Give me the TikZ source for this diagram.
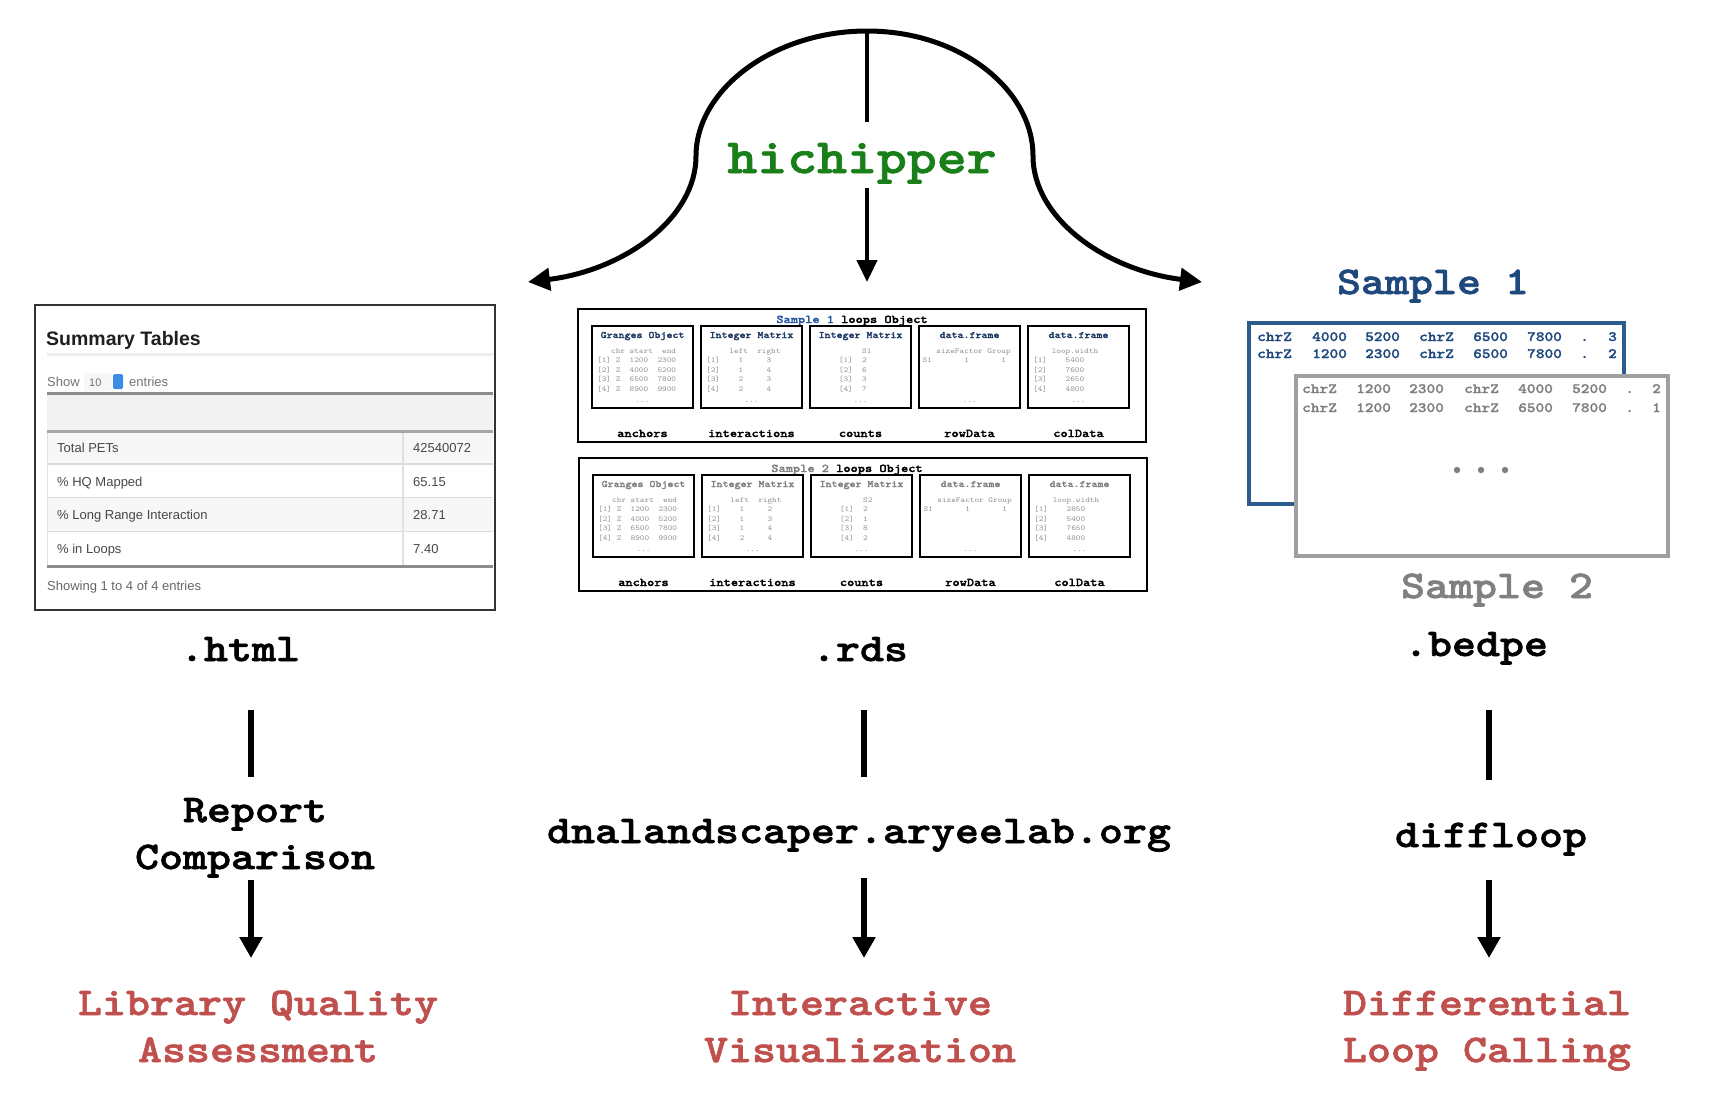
\documentclass[tikz,border=0pt]{standalone}
\usepackage{fontspec}
\setmainfont{Liberation Sans}
\newfontfamily\courB{lmmonolt10-bold.otf}[FakeStretch=1.163, FakeBold=1.6]
\newfontfamily\courR{lmmono10-regular.otf}[FakeStretch=1.163]
\usetikzlibrary{arrows.meta}
\newcommand\fsz[1]{\fontsize{#1}{#1}\selectfont}
\newcommand\pvl[1]{\vtop{\baselineskip=9.6pt\lineskiplimit=-20pt\lineskip=0pt #1}}
\definecolor{hgreen}{RGB}{25,128,25}
\definecolor{hred}{RGB}{192,80,77}
\definecolor{navy}{RGB}{31,56,100}
\definecolor{s1title}{RGB}{40,90,160}
\definecolor{s1lab}{RGB}{31,73,125}
\definecolor{sgray}{RGB}{128,128,128}
\definecolor{bblue}{RGB}{44,92,140}
\definecolor{bgray}{RGB}{160,160,160}
\definecolor{spin}{RGB}{60,140,230}
\tikzset{
 lbl/.style={font=\courB\fsz{39.3}, anchor=base, inner sep=0pt},
 res/.style={lbl, text=hred},
 hichip/.style={font=\courB\fsz{49}, anchor=base, inner sep=0pt, text=hgreen},
 curvearrow/.style={line width=5pt, -{Triangle[length=22pt,width=22pt]}},
 thinstem/.style={line width=4.5pt},
 thinarrow/.style={line width=4.5pt, -{Triangle[length=22pt,width=20pt]}},
 stem/.style={line width=6.5pt},
 downarrow/.style={line width=6.5pt, -{Triangle[length=21pt,width=22pt]}},
 outerbox/.style={draw=black, line width=2pt},
 innerbox/.style={draw=black, line width=2.5pt},
 ptitle/.style={font=\courB\fsz{11.8}, anchor=base, inner sep=0pt},
 phead/.style={font=\courB\fsz{9.8}, anchor=base, inner sep=0pt},
 pcont/.style={font=\courR\fsz{7.6}, anchor=base west, inner sep=0pt, text=black!45},
 pdots/.style={font=\courR\fsz{7.6}, anchor=base, inner sep=0pt, text=black!45},
 plabel/.style={font=\courB\fsz{11.8}, anchor=base, inner sep=0pt},
 btok/.style={font=\courB\fsz{14.2}, anchor=base west, inner sep=0pt},
 stxt/.style={font=\fsz{13}, anchor=base west, inner sep=0pt, text=black!72},
}
\begin{document}
\begin{tikzpicture}[x=1pt,y=-1pt]
\useasboundingbox (0,0) rectangle (1732,1096);

% ---------------- hichipper fan ----------------
\coordinate (top) at (867,31);
\coordinate (ltip) at (528,282);
\coordinate (rtip) at (1202,282);
\coordinate (cs1) at (867,122);
\coordinate (cs2) at (867,188);
\coordinate (ctip) at (867,282);
\node[hichip] (hich) at (862,173) {hichipper};
\draw[curvearrow] (top) .. controls (773,31) and (696,90) .. (696,156)
   .. controls (696,218) and (625,270) .. (ltip);
\draw[curvearrow] (top) .. controls (961,31) and (1033,90) .. (1033,156)
   .. controls (1033,218) and (1105,270) .. (rtip);
\draw[thinstem] (top) -- (cs1);
\draw[thinarrow] (cs2) -- (ctip);

% ---------------- Summary table (left) ----------------
\draw[line width=2pt, black!80] (35,305) rectangle (495,610);
\node[anchor=base west, inner sep=0pt, font=\bfseries\fsz{19.5}, text=black!88] (sumt) at (46,345) {Summary Tables};
\draw[black!7, line width=3pt] (47,354) -- (493,354);
\node[stxt, text=black!55] (show) at (47,386) {Show};
\fill[black!3] (84,373) rectangle (112,391);
\node[stxt, font=\fsz{11}, text=black!55] (ten) at (89,386) {10};
\fill[spin, rounded corners=1.5pt] (113,374) rectangle (123,389);
\node[stxt, text=black!55] (entr) at (129,386) {entries};
\fill[black!5] (47,394) rectangle (493,430);
\draw[black!45, line width=3pt] (47,393) -- (493,393);
\draw[black!35, line width=3pt] (47,431) -- (493,431);
\fill[black!3] (47,432.5) rectangle (493,463);
\fill[black!3] (47,498) rectangle (493,531);
\draw[black!14, line width=1.5pt] (47,464) -- (493,464);
\draw[black!14, line width=1.5pt] (47,497.5) -- (493,497.5);
\draw[black!14, line width=1.5pt] (47,531.5) -- (493,531.5);
\draw[black!12, line width=1.2pt] (403,432.5) -- (403,565);
\draw[black!12, line width=1.2pt] (47.5,432.5) -- (47.5,565);
\draw[black!45, line width=3pt] (47,566) -- (493,566);
\node[stxt] (r1a) at (57,452) {Total PETs};
\node[stxt] (r1b) at (413,452) {42540072};
\node[stxt] (r2a) at (57,486) {\% HQ Mapped};
\node[stxt] (r2b) at (413,486) {65.15};
\node[stxt] (r3a) at (57,519.5) {\% Long Range Interaction};
\node[stxt] (r3b) at (413,519.5) {28.71};
\node[stxt] (r4a) at (57,553) {\% in Loops};
\node[stxt] (r4b) at (413,553) {7.40};
\node[stxt, text=black!60] (showing) at (47,590) {Showing 1 to 4 of 4 entries};

% ---------------- RDS panel, sample 1 ----------------
\draw[outerbox] (578,309) rectangle (1146,442);
\node[ptitle] (p1t) at (852,323) {\textcolor{s1title}{Sample 1} loops Object};
\foreach \x in {592,701,810,919,1028} \draw[innerbox] (\x,326) rectangle ++(101,82);
\node[phead, text=navy] (p1h1) at (642.5,338) {Granges Object};
\node[phead, text=navy] (p1h2) at (751.5,338) {Integer Matrix};
\node[phead, text=navy] (p1h3) at (860.5,338) {Integer Matrix};
\node[phead, text=navy] (p1h4) at (969.5,338) {data.frame};
\node[phead, text=navy] (p1h5) at (1078.5,338) {data.frame};
\node[pcont] (p1c1) at (597,353) {\pvl{\hbox{~~~chr~start~~end}\hbox{[1]~Z~~1200~~2300}\hbox{[2]~Z~~4000~~5200}\hbox{[3]~Z~~6500~~7800}\hbox{[4]~Z~~8900~~9900}}};
\node[pcont] (p1c2) at (706,353) {\pvl{\hbox{~~~~~left~~right}\hbox{[1]~~~~1~~~~~3}\hbox{[2]~~~~1~~~~~4}\hbox{[3]~~~~2~~~~~3}\hbox{[4]~~~~2~~~~~4}}};
\node[pcont] (p1c3) at (838.7,353) {\pvl{\hbox{~~~~~S1}\hbox{[1]~~2}\hbox{[2]~~6}\hbox{[3]~~3}\hbox{[4]~~7}}};
\node[pcont] (p1c4) at (922.3,353) {\pvl{\hbox{~~~sizeFactor~Group}\hbox{S1~~~~~~~1~~~~~~~1}}};
\node[pcont] (p1c5) at (1033,353) {\pvl{\hbox{~~~~loop.width}\hbox{[1]~~~~5400}\hbox{[2]~~~~7600}\hbox{[3]~~~~2650}\hbox{[4]~~~~4800}}};
\node[pdots] (p1d1) at (642.5,402) {...};
\node[pdots] (p1d2) at (751.5,402) {...};
\node[pdots] (p1d3) at (860.5,402) {...};
\node[pdots] (p1d4) at (969.5,402) {...};
\node[pdots] (p1d5) at (1078.5,402) {...};
\node[plabel] (p1l1) at (642.5,437) {anchors};
\node[plabel] (p1l2) at (751.5,437) {interactions};
\node[plabel] (p1l3) at (860.5,437) {counts};
\node[plabel] (p1l4) at (969.5,437) {rowData};
\node[plabel] (p1l5) at (1078.5,437) {colData};

% ---------------- RDS panel, sample 2 ----------------
\begin{scope}[yshift=-149pt, xshift=1pt]
\draw[outerbox] (578,309) rectangle (1146,442);
\node[ptitle] (p2t) at (846,323) {\textcolor{sgray}{Sample 2} loops Object};
\foreach \x in {592,701,810,919,1028} \draw[innerbox] (\x,326) rectangle ++(101,82);
\node[phead, text=sgray] (p2h1) at (642.5,338) {Granges Object};
\node[phead, text=sgray] (p2h2) at (751.5,338) {Integer Matrix};
\node[phead, text=sgray] (p2h3) at (860.5,338) {Integer Matrix};
\node[phead, text=sgray] (p2h4) at (969.5,338) {data.frame};
\node[phead, text=sgray] (p2h5) at (1078.5,338) {data.frame};
\node[pcont] (p2c1) at (597,353) {\pvl{\hbox{~~~chr~start~~end}\hbox{[1]~Z~~1200~~2300}\hbox{[2]~Z~~4000~~5200}\hbox{[3]~Z~~6500~~7800}\hbox{[4]~Z~~8900~~9900}}};
\node[pcont] (p2c2) at (706,353) {\pvl{\hbox{~~~~~left~~right}\hbox{[1]~~~~1~~~~~2}\hbox{[2]~~~~1~~~~~3}\hbox{[3]~~~~1~~~~~4}\hbox{[4]~~~~2~~~~~4}}};
\node[pcont] (p2c3) at (838.7,353) {\pvl{\hbox{~~~~~S2}\hbox{[1]~~2}\hbox{[2]~~1}\hbox{[3]~~8}\hbox{[4]~~2}}};
\node[pcont] (p2c4) at (922.3,353) {\pvl{\hbox{~~~sizeFactor~Group}\hbox{S1~~~~~~~1~~~~~~~1}}};
\node[pcont] (p2c5) at (1033,353) {\pvl{\hbox{~~~~loop.width}\hbox{[1]~~~~2850}\hbox{[2]~~~~5400}\hbox{[3]~~~~7650}\hbox{[4]~~~~4800}}};
\node[pdots] (p2d1) at (642.5,402) {...};
\node[pdots] (p2d2) at (751.5,402) {...};
\node[pdots] (p2d3) at (860.5,402) {...};
\node[pdots] (p2d4) at (969.5,402) {...};
\node[pdots] (p2d5) at (1078.5,402) {...};
\node[plabel] (p2l1) at (642.5,437) {anchors};
\node[plabel] (p2l2) at (751.5,437) {interactions};
\node[plabel] (p2l3) at (860.5,437) {counts};
\node[plabel] (p2l4) at (969.5,437) {rowData};
\node[plabel] (p2l5) at (1078.5,437) {colData};
\end{scope}

% ---------------- bedpe (right) ----------------
\node[lbl, text=s1lab] (s1) at (1433,294) {Sample 1};
\draw[bblue, line width=4pt, fill=white] (1249,323) rectangle (1624,504);
\foreach \t/\x [count=\i] in {chrZ/1257,4000/1312,5200/1365,chrZ/1419,6500/1473,7800/1527,./1580,3/1608}
  \node[btok, text=s1lab] (bA\i) at (\x,341) {\t};
\foreach \t/\x [count=\i] in {chrZ/1257,1200/1312,2300/1365,chrZ/1419,6500/1473,7800/1527,./1580,2/1608}
  \node[btok, text=s1lab] (bB\i) at (\x,358) {\t};
\draw[bgray, line width=4pt, fill=white] (1296,376) rectangle (1668,556);
\foreach \t/\x [count=\i] in {chrZ/1302,1200/1356,2300/1409,chrZ/1464,4000/1518,5200/1572,./1625,2/1652}
  \node[btok, text=sgray] (bC\i) at (\x,393) {\t};
\foreach \t/\x [count=\i] in {chrZ/1302,1200/1356,2300/1409,chrZ/1464,6500/1518,7800/1572,./1625,1/1652}
  \node[btok, text=sgray] (bD\i) at (\x,412) {\t};
\fill[sgray] (1457,470) circle (3.2pt) (1481,470) circle (3.2pt) (1505,470) circle (3.2pt);
\node[lbl, text=sgray] (s2) at (1497,598) {Sample 2};

% ---------------- lower labels ----------------
\node[lbl] (html) at (240,661) {.html};
\node[lbl] (rds) at (860,661) {.rds};
\node[lbl] (bedpe) at (1476,656) {.bedpe};
\node[lbl] (rep1) at (255,822) {Report};
\node[lbl] (rep2) at (255,869) {Comparison};
\node[lbl] (dna) at (859,843) {dnalandscaper.aryeelab.org};
\node[lbl] (diff) at (1491,847) {diffloop};
\node[res] (lq1) at (258,1015) {Library Quality};
\node[res] (lq2) at (258,1062) {Assessment};
\node[res] (iv1) at (860,1015) {Interactive};
\node[res] (iv2) at (860,1062) {Visualization};
\node[res] (dl1) at (1487,1015) {Differential};
\node[res] (dl2) at (1487,1062) {Loop Calling};

% connectors
\coordinate (la1) at (251,710); \coordinate (la2) at (251,777);
\coordinate (la3) at (251,880); \coordinate (la4) at (251,958);
\coordinate (ca1) at (864,710); \coordinate (ca2) at (864,777);
\coordinate (ca3) at (864,878); \coordinate (ca4) at (864,958);
\coordinate (ra1) at (1489,710); \coordinate (ra2) at (1489,780);
\coordinate (ra3) at (1489,880); \coordinate (ra4) at (1489,958);
\draw[stem] (la1) -- (la2);
\draw[downarrow] (la3) -- (la4);
\draw[stem] (ca1) -- (ca2);
\draw[downarrow] (ca3) -- (ca4);
\draw[stem] (ra1) -- (ra2);
\draw[downarrow] (ra3) -- (ra4);
\end{tikzpicture}
\end{document}
